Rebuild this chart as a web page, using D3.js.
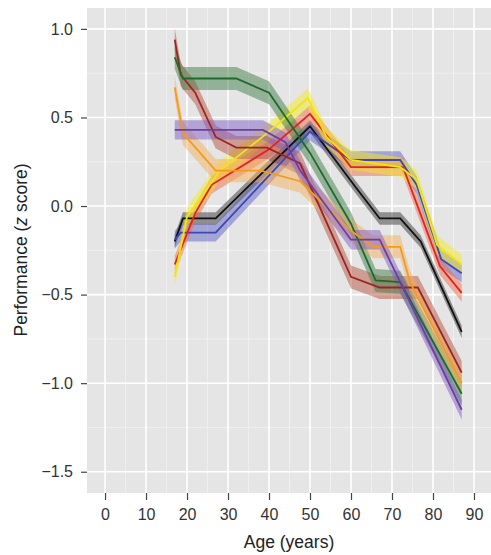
<html lang="en">
  <head>
    <meta charset="UTF-8" />
    <title>Performance by age</title>
    <script src="https://d3js.org/d3.v7.min.js"></script>
  </head>
  <style>
    body {
      margin: 0px;
      overflow: hidden;
      background: #fff;
    }
    text {
      font-family: "Liberation Sans", Arial, sans-serif;
    }
  </style>
  <body>
    <svg width="491" height="555"></svg>
  </body>
  <footer>
    <script>
      // ages are knot positions, values are z scores, se is ribbon half-width
      var blackAge = [17, 19, 27, 50, 61, 67, 72, 77, 87];
      var blackVal = [-0.2, -0.07, -0.07, 0.45, 0.11, -0.07, -0.07, -0.2, -0.71];
      var blackSe = 0.035;

      var blueAge = [17, 18.5, 27, 50, 60, 72, 76, 82, 87];
      var blueVal = [-0.19, -0.15, -0.15, 0.42, 0.26, 0.26, 0.12, -0.3, -0.38];
      var blueSe = 0.05;

      var redAge = [17, 22, 26, 40, 50, 60, 72.7, 81.7, 87];
      var redVal = [-0.33, -0.04, 0.12, 0.32, 0.52, 0.22, 0.22, -0.34, -0.49];
      var redSe = 0.05;

      var yellowAge = [17, 20, 28, 40, 49.5, 54, 60, 72, 76, 81, 87];
      var yellowVal = [-0.4, -0.06, 0.2, 0.42, 0.61, 0.39, 0.26, 0.22, 0.15, -0.22, -0.33];
      var yellowSe = 0.055;

      var darkredAge = [17, 18.5, 22, 27, 32, 39.5, 47.6, 60, 67, 76.3, 87];
      var darkredVal = [0.94, 0.74, 0.64, 0.39, 0.33, 0.33, 0.24, -0.4, -0.46, -0.46, -0.94];
      var darkredSe = 0.065;

      var greenAge = [17, 19, 32, 40, 50, 60, 66, 72, 87];
      var greenVal = [0.84, 0.72, 0.72, 0.64, 0.3, -0.1, -0.42, -0.43, -1.06];
      var greenSe = 0.065;

      var orangeAge = [17, 19, 27, 38, 47.6, 60, 65.4, 72, 74.4, 87];
      var orangeVal = [0.67, 0.41, 0.2, 0.2, 0.14, -0.14, -0.23, -0.23, -0.43, -1.0];
      var orangeSe = 0.065;

      var purpleAge = [17, 38.5, 44, 47.6, 60, 67, 72, 87];
      var purpleVal = [0.43, 0.43, 0.36, 0.2, -0.19, -0.19, -0.43, -1.15];
      var purpleSe = 0.055;

      var xTicks = [0, 10, 20, 30, 40, 50, 60, 70, 80, 90];
      var yTicks = [-1.5, -1.0, -0.5, 0.0, 0.5, 1.0];

      var series = [
        { age: blackAge, val: blackVal, se: blackSe, line: "#111111", fill: "#333333" },
        { age: blueAge, val: blueVal, se: blueSe, line: "#3f47b0", fill: "#5a5fc4" },
        { age: redAge, val: redVal, se: redSe, line: "#e3231f", fill: "#ee6a4a" },
        { age: yellowAge, val: yellowVal, se: yellowSe, line: "#f0e414", fill: "#f6ec20" },
        { age: darkredAge, val: darkredVal, se: darkredSe, line: "#9c2424", fill: "#b4503a" },
        { age: greenAge, val: greenVal, se: greenSe, line: "#1e6a2c", fill: "#3b7a42" },
        { age: orangeAge, val: orangeVal, se: orangeSe, line: "#f29c1c", fill: "#f5ad5a" },
        { age: purpleAge, val: purpleVal, se: purpleSe, line: "#6e3f9e", fill: "#7d5cc4" }
      ];

      var svg = d3.select("svg");
      var margin = { left: 87, top: 8, right: 0, bottom: 62 };
      var width = 491;
      var height = 555;

      var xScale = d3
        .scaleLinear()
        .domain([-4.4, 94.15])
        .range([margin.left, width - margin.right]);
      var yScale = d3
        .scaleLinear()
        .domain([-1.62, 1.118])
        .range([height - margin.bottom, margin.top]);

      // panel background
      svg
        .append("rect")
        .attr("x", margin.left)
        .attr("y", margin.top)
        .attr("width", width - margin.left - margin.right)
        .attr("height", height - margin.top - margin.bottom)
        .attr("fill", "#e5e5e5");

      // minor gridlines
      var grid = svg.append("g");
      grid
        .selectAll("line.vminor")
        .data(xTicks.map(function (d) { return d + 5; }))
        .enter()
        .append("line")
        .attr("x1", function (d) { return xScale(d); })
        .attr("x2", function (d) { return xScale(d); })
        .attr("y1", margin.top)
        .attr("y2", height - margin.bottom)
        .attr("stroke", "#f2f2f2")
        .attr("stroke-width", 0.8);
      grid
        .selectAll("line.hminor")
        .data(yTicks.slice(1).map(function (d) { return d - 0.25; }))
        .enter()
        .append("line")
        .attr("y1", function (d) { return yScale(d); })
        .attr("y2", function (d) { return yScale(d); })
        .attr("x1", margin.left)
        .attr("x2", width - margin.right)
        .attr("stroke", "#f2f2f2")
        .attr("stroke-width", 0.8);
      // major gridlines
      grid
        .selectAll("line.vmajor")
        .data(xTicks)
        .enter()
        .append("line")
        .attr("x1", function (d) { return xScale(d); })
        .attr("x2", function (d) { return xScale(d); })
        .attr("y1", margin.top)
        .attr("y2", height - margin.bottom)
        .attr("stroke", "#ffffff")
        .attr("stroke-width", 1.6);
      grid
        .selectAll("line.hmajor")
        .data(yTicks)
        .enter()
        .append("line")
        .attr("y1", function (d) { return yScale(d); })
        .attr("y2", function (d) { return yScale(d); })
        .attr("x1", margin.left)
        .attr("x2", width - margin.right)
        .attr("stroke", "#ffffff")
        .attr("stroke-width", 1.6);

      var area = d3
        .area()
        .x(function (d) { return xScale(d[0]); })
        .y0(function (d) { return yScale(d[1] - d[2]); })
        .y1(function (d) { return yScale(d[1] + d[2]); });
      var line = d3
        .line()
        .x(function (d) { return xScale(d[0]); })
        .y(function (d) { return yScale(d[1]); });

      function points(s) {
        return s.age.map(function (a, i) { return [a, s.val[i], s.se]; });
      }

      svg
        .append("g")
        .selectAll("path")
        .data(series)
        .enter()
        .append("path")
        .attr("d", function (s) { return area(points(s)); })
        .attr("fill", function (s) { return s.fill; })
        .attr("fill-opacity", 0.48);

      svg
        .append("g")
        .selectAll("path")
        .data(series)
        .enter()
        .append("path")
        .attr("d", function (s) { return line(points(s)); })
        .attr("fill", "none")
        .attr("stroke", function (s) { return s.line; })
        .attr("stroke-width", 1.8);

      // axes
      var xAxis = svg
        .append("g")
        .attr("transform", `translate(0, ${height - margin.bottom})`)
        .call(d3.axisBottom(xScale).tickValues(xTicks).tickSize(7).tickPadding(9));
      var yAxis = svg
        .append("g")
        .attr("transform", `translate(${margin.left}, 0)`)
        .call(
          d3
            .axisLeft(yScale)
            .tickValues(yTicks)
            .tickSize(6)
            .tickPadding(8)
            .tickFormat(function (d) { return d3.format(".1f")(d).replace("-", "\u2212"); })
        );
      [xAxis, yAxis].forEach(function (g) {
        g.select(".domain").remove();
        g.selectAll(".tick line").attr("stroke", "#444").attr("stroke-width", 1.2);
        g.selectAll(".tick text").attr("fill", "#333").attr("font-size", 16);
      });

      svg
        .append("text")
        .attr("x", (margin.left + width - margin.right) / 2)
        .attr("y", 548)
        .attr("text-anchor", "middle")
        .attr("font-size", 17.5)
        .attr("fill", "#222")
        .text("Age (years)");

      var yTitle = svg
        .append("text")
        .attr("transform", "translate(27, 250) rotate(-90)")
        .attr("text-anchor", "middle")
        .attr("font-size", 17.5)
        .attr("fill", "#222");
      yTitle.append("tspan").text("Performance (");
      yTitle.append("tspan").attr("font-style", "italic").text("z");
      yTitle.append("tspan").text(" score)");
    </script>
  </footer>
</html>
